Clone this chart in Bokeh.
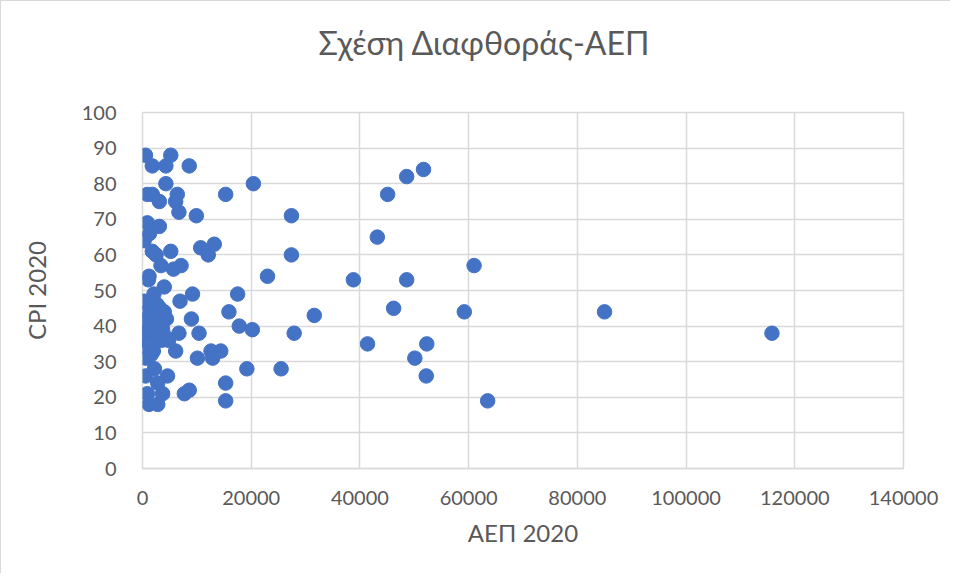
from bokeh.plotting import figure
from bokeh.models import ColumnDataSource, FixedTicker, BasicTickFormatter, Range1d, Title
from bokeh.embed import file_html
from bokeh.resources import INLINE

# GDP per capita 2020 (ΑΕΠ 2020)
gdp = [550, 5200, 1800, 4300, 8600,
       4300, 20400, 900, 1800, 6400, 15300, 3100, 6100, 6700, 9900, 27400, 45100, 48600, 51700,
       900, 3100, 1300, 300, 43200,
       1800, 5200, 10700, 13200, 2500, 12100, 27400,
       3400, 5700, 7100, 61000,
       1200, 1100, 23000, 38800, 48600,
       4000, 2100, 9200, 17500, 300, 6900,
       46200, 15900, 59200, 85000, 31600, 9000,
       17800, 20200, 27900, 6700, 10400, 115800,
       41400, 52300, 50100, 52200, 63500,
       12600, 14400, 12900, 10100, 6100,
       19200, 25500, 15300, 15300,
       600, 600, 2200, 4600, 7700, 8600, 900, 3700, 1200, 2800, 2800,
       200, 400, 500, 700, 900, 1000, 1200, 1300, 1500, 1600, 1800, 2000, 2100, 2300, 2500,
       2700, 2900, 3000, 3300, 3500, 3700, 4000, 4200, 4400, 4800, 2000, 1200, 800, 3200, 1600]

# Corruption Perceptions Index 2020 (CPI 2020)
cpi = [88, 88, 85, 85, 85,
       80, 80, 77, 77, 77, 77, 75, 75, 72, 71, 71, 77, 82, 84,
       69, 68, 66, 64, 65,
       61, 61, 62, 63, 60, 60, 60,
       57, 56, 57, 57,
       54, 53, 54, 53, 53,
       51, 49, 49, 49, 47, 47,
       45, 44, 44, 44, 43, 42,
       40, 39, 38, 38, 38, 38,
       35, 35, 31, 26, 19,
       33, 33, 31, 31, 33,
       28, 28, 24, 19,
       31, 26, 28, 26, 21, 22, 21, 21, 18, 18, 24,
       36, 38, 40, 34, 41, 36, 39, 43, 38, 45, 40, 42, 36, 44, 39,
       46, 37, 41, 43, 36, 39, 44, 37, 42, 36, 33, 35, 44, 45, 32]

x_ticks = [0, 20000, 40000, 60000, 80000, 100000, 120000, 140000]
y_ticks = [0, 10, 20, 30, 40, 50, 60, 70, 80, 90, 100]

title_text = "Σχέση Διαφθοράς-ΑΕΠ"
x_label = "ΑΕΠ 2020"
y_label = "CPI 2020"

GRID = "#d9d9d9"
TXT = "#595959"
FONT = "Lato"

p = figure(width=950, height=573, output_backend="svg", toolbar_location=None, title=None,
           x_range=Range1d(0, 140000), y_range=Range1d(0, 100),
           min_border_left=141, min_border_right=48, min_border_top=111, min_border_bottom=106)
p.styles = {"border-left": "1px solid #d9d9d9", "border-top": "1px solid #d9d9d9"}

# empty spacer panel between frame and title, then the chart title itself
p.add_layout(Title(text=" ", text_font_size="1px", standoff=29), "above")
p.add_layout(Title(text=title_text, align="left", offset=176, text_font=FONT,
                   text_font_size="32px", text_font_style="normal", text_color=TXT,
                   standoff=38), "above")

src = ColumnDataSource(dict(x=gdp, y=cpi))
p.scatter("x", "y", source=src, size=14.5, fill_color="#4472C4", line_color="#4472C4")

p.xaxis.ticker = FixedTicker(ticks=x_ticks)
p.yaxis.ticker = FixedTicker(ticks=y_ticks)
p.xaxis.formatter = BasicTickFormatter(use_scientific=False)
for ax in (p.xaxis[0], p.yaxis[0]):
    ax.major_tick_line_color = None
    ax.minor_tick_line_color = None
    ax.major_label_text_font = FONT
    ax.major_label_text_font_size = "20px"
    ax.major_label_text_color = TXT
    ax.axis_label_text_font = FONT
    ax.axis_label_text_font_size = "24px"
    ax.axis_label_text_font_style = "normal"
    ax.axis_label_text_color = TXT
p.xaxis.axis_label = x_label
p.yaxis.axis_label = y_label
p.xaxis.axis_line_color = GRID
p.xaxis.axis_line_width = 1.5
p.yaxis.axis_line_color = None
p.xaxis.major_label_standoff = 16
p.yaxis.major_label_standoff = 20
p.xaxis.axis_label_standoff = 10
p.yaxis.axis_label_standoff = 28

p.xgrid.grid_line_color = GRID
p.ygrid.grid_line_color = GRID
p.xgrid.grid_line_width = 1.5
p.ygrid.grid_line_width = 1.5
p.outline_line_color = GRID
p.outline_line_width = 1.5

open("out.html", "w").write(file_html(p, INLINE))
